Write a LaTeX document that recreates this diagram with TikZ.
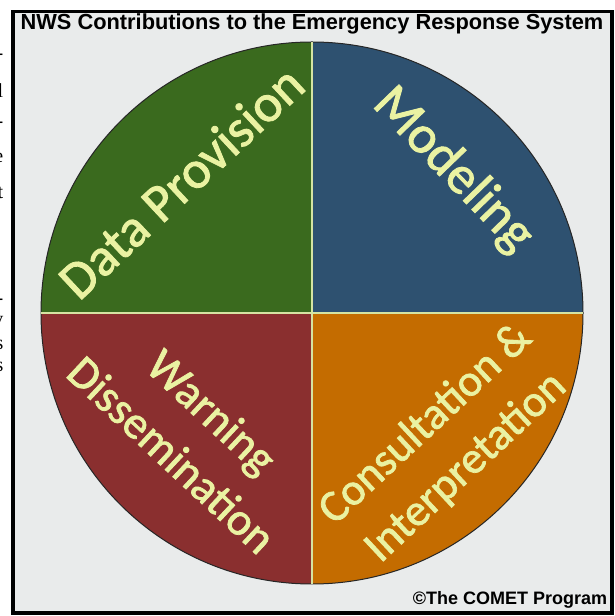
\documentclass[tikz,border=0pt]{standalone}
\usepackage{fontspec}
\setmainfont{Liberation Sans}
\newfontfamily\calib[FakeBold=1.6]{Carlito}
\newfontfamily\seriff{Liberation Serif}
\definecolor{bggrey}{HTML}{E9EBEB}
\definecolor{qgreen}{HTML}{3A6A1E}
\definecolor{qblue}{HTML}{2E5170}
\definecolor{qred}{HTML}{8A2F2F}
\definecolor{qorange}{HTML}{C46C00}
\definecolor{qtext}{HTML}{EAF2A2}
\definecolor{divline}{HTML}{D6E4A2}
\tikzset{
  quadlabel/.style={inner sep=0pt, text=qtext, align=center, font=\calib\fontsize{53.5}{59}\selectfont},
  quadlabelsmall/.style={quadlabel, font=\calib\fontsize{46}{59}\selectfont},
  frag/.style={anchor=east, inner sep=0pt, font=\seriff\fontsize{20}{20}\selectfont},
  frame/.style={draw=black, line width=3.5pt},
  divider/.style={draw=divline, line width=2.5pt},
}
\begin{document}
\begin{tikzpicture}[x=1pt,y=1pt]
\useasboundingbox (0,0) rectangle (615,616);
\fill[white] (0,0) rectangle (615,616);
\fill[bggrey] (13,3) rectangle (612,604.5);
% left fragments of cut-off text
\begin{scope}
\clip (0,0) rectangle (10.5,616);
\node[frag] (f1) at (3.5,559) {-};
\node[frag] (f2) at (3.5,525) {l};
\node[frag] (f3) at (3.5,491) {-};
\node[frag] (f4) at (3.5,458) {e};
\node[frag] (f5) at (3.5,423) {t};
\node[frag] (f6) at (3.5,314) {-};
\node[frag] (f7) at (3.5,293) {y};
\node[frag] (f8) at (3.5,271) {s};
\node[frag] (f9) at (3.5,249) {s};
\end{scope}
\draw[frame] (13,3) rectangle (612,604.5);
% pie
\coordinate (c) at (312,303);
\fill[qgreen] (c) -- ++(180:271) arc[start angle=180, end angle=90, radius=271] -- cycle;
\fill[qblue] (c) -- ++(90:271) arc[start angle=90, end angle=0, radius=271] -- cycle;
\fill[qorange] (c) -- ++(0:271) arc[start angle=0, end angle=-90, radius=271] -- cycle;
\fill[qred] (c) -- ++(-90:271) arc[start angle=-90, end angle=-180, radius=271] -- cycle;
\draw[black!85, line width=1pt] (c) circle[radius=271];
\coordinate (l) at (41,303);
\coordinate (r) at (583,303);
\coordinate (t) at (312,574);
\coordinate (b) at (312,32);
\draw[divider] (l) -- (r);
\draw[divider] (t) -- (b);
% labels
\node[quadlabel, rotate=43] (dp) at (181,434) {Data Provision};
\node[quadlabel, rotate=-46] (mod) at (453,446) {Modeling};
\node[quadlabelsmall, rotate=-43] (wd) at (192,183) {Warning\\Dissemination};
\node[quadlabelsmall, font=\calib\fontsize{45}{59}\selectfont, rotate=43] (ci) at (446,170) {Consultation \&\\Interpretation};
% title and credit
\node[inner sep=0pt, font=\bfseries\fontsize{21.8}{24}\selectfont] (title) at (312,592.5) {NWS Contributions to the Emergency Response System};
\node[inner sep=0pt, font=\bfseries\fontsize{18}{20}\selectfont] (credit) at (510,16) {\char"00A9The COMET Program};
\end{tikzpicture}
\end{document}
